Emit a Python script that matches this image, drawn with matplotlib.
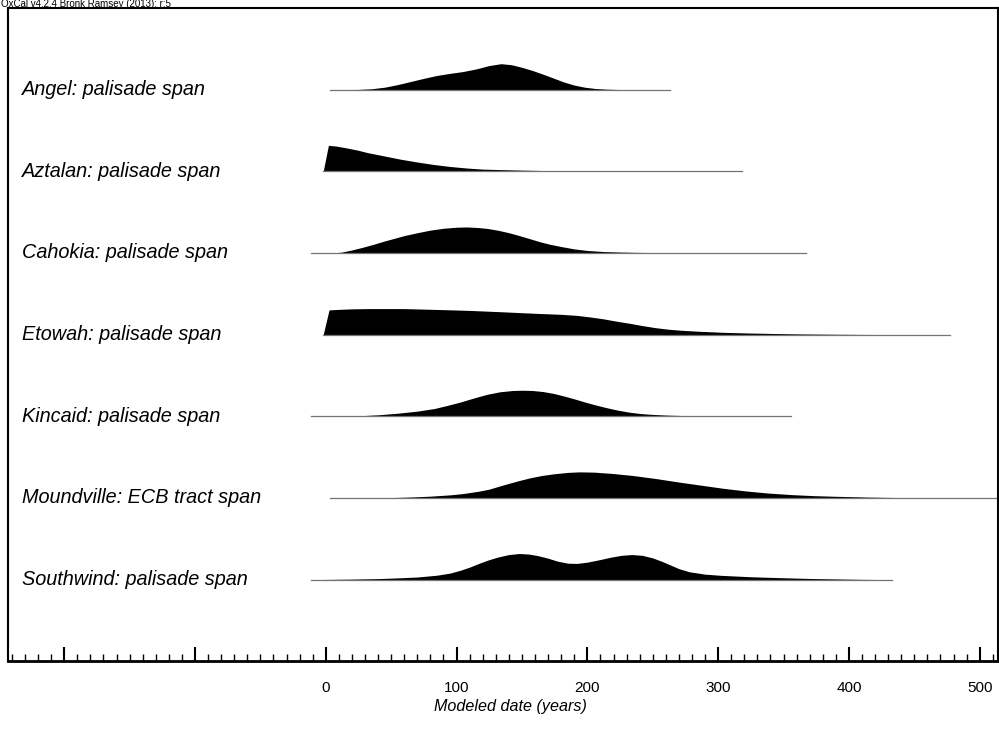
import matplotlib.pyplot as plt

# OxCal-style modeled span distributions (years, relative probability)
labels = ["Angel: palisade span", "Aztalan: palisade span", "Cahokia: palisade span",
          "Etowah: palisade span", "Kincaid: palisade span",
          "Moundville: ECB tract span", "Southwind: palisade span"]

angel_years = [3, 15, 25, 35, 45, 55, 65, 75, 85, 95, 105, 115, 125, 134, 142, 150, 158,
               166, 174, 182, 190, 198, 206, 215, 225, 240, 263]
angel_dens = [0, 0.005, 0.015, 0.04, 0.1, 0.2, 0.32, 0.44, 0.55, 0.63, 0.7, 0.8, 0.93, 1.0,
              0.96, 0.86, 0.74, 0.6, 0.45, 0.3, 0.18, 0.1, 0.05, 0.025, 0.01, 0.003, 0]

aztalan_years = [-2, 2, 8, 16, 24, 32, 44, 57, 70, 82, 95, 108, 120, 134, 150, 172, 195,
                 220, 260, 318]
aztalan_dens = [0, 1.0, 0.97, 0.9, 0.82, 0.72, 0.6, 0.47, 0.36, 0.27, 0.19, 0.13, 0.09,
                0.07, 0.05, 0.03, 0.018, 0.01, 0.003, 0]

cahokia_years = [-11, 0, 6, 12, 20, 28, 36, 44, 52, 60, 70, 80, 90, 100, 108, 116, 124,
                 132, 140, 148, 156, 164, 172, 180, 190, 200, 212, 225, 240, 260, 290, 367]
cahokia_dens = [0, 0, 0.01, 0.035, 0.12, 0.22, 0.33, 0.45, 0.56, 0.67, 0.78, 0.88, 0.95,
                0.99, 1.0, 0.98, 0.94, 0.87, 0.78, 0.67, 0.55, 0.43, 0.33, 0.25, 0.16, 0.1,
                0.06, 0.04, 0.025, 0.015, 0.005, 0]

etowah_years = [-2, 2.5, 10, 20, 32, 45, 60, 75, 90, 110, 134, 160, 180, 192, 202, 212,
                222, 232, 242, 252, 262, 272, 286, 305, 324, 345, 363, 390, 413, 445, 477]
etowah_dens = [0, 0.95, 0.97, 0.99, 1.0, 1.0, 1.0, 0.98, 0.96, 0.93, 0.88, 0.82, 0.78, 0.74,
               0.68, 0.61, 0.52, 0.44, 0.35, 0.27, 0.21, 0.17, 0.13, 0.09, 0.065, 0.045,
               0.03, 0.018, 0.01, 0.004, 0]

kincaid_years = [-11, 10, 25, 40, 55, 70, 83, 93, 103, 113, 123, 133, 143, 150, 158, 166,
                 174, 182, 190, 198, 206, 214, 223, 232, 240, 248, 260, 274, 300, 356]
kincaid_dens = [0, 0.005, 0.02, 0.06, 0.12, 0.2, 0.3, 0.42, 0.55, 0.7, 0.84, 0.94, 0.99,
                1.0, 0.99, 0.95, 0.88, 0.78, 0.67, 0.55, 0.44, 0.34, 0.24, 0.16, 0.11, 0.08,
                0.05, 0.03, 0.01, 0]

moundville_years = [3, 30, 50, 66, 80, 95, 105, 117, 125, 133, 140, 148, 156, 165, 175, 185,
                    194, 205, 219, 235, 253, 270, 287, 304, 321, 338, 356, 373, 390, 415,
                    440, 480, 520]
moundville_dens = [0, 0.005, 0.015, 0.04, 0.07, 0.12, 0.17, 0.26, 0.34, 0.46, 0.56, 0.67,
                   0.77, 0.86, 0.93, 0.98, 1.0, 0.99, 0.94, 0.86, 0.74, 0.61, 0.49, 0.37,
                   0.27, 0.19, 0.13, 0.09, 0.065, 0.035, 0.015, 0.005, 0]

southwind_years = [-11, 20, 40, 54, 70, 85, 95, 103, 110, 117, 124, 132, 140, 148, 155, 162,
                   170, 177, 185, 192, 200, 209, 218, 226, 234, 242, 250, 257, 264, 270,
                   278, 290, 302, 325, 346, 370, 390, 410, 433]
southwind_dens = [0, 0.02, 0.04, 0.065, 0.1, 0.17, 0.25, 0.36, 0.48, 0.62, 0.75, 0.87, 0.96,
                  1.0, 0.98, 0.92, 0.82, 0.71, 0.63, 0.62, 0.67, 0.76, 0.86, 0.93, 0.96,
                  0.93, 0.83, 0.7, 0.55, 0.42, 0.3, 0.21, 0.165, 0.11, 0.077, 0.045, 0.027,
                  0.01, 0]

series = [(angel_years, angel_dens), (aztalan_years, aztalan_dens),
          (cahokia_years, cahokia_dens), (etowah_years, etowah_dens),
          (kincaid_years, kincaid_dens), (moundville_years, moundville_dens),
          (southwind_years, southwind_dens)]

major_ticks = [-200, -100, 0, 100, 200, 300, 400, 500]
tick_labels = ["", "", "0", "100", "200", "300", "400", "500"]

plt.rcParams["font.family"] = ["Liberation Sans", "DejaVu Sans"]

fig = plt.figure(figsize=(9.99, 7.43), dpi=100)
ax = fig.add_axes([0.008, 0.110, 0.991, 0.879])

n = len(series)
scale = 0.32
for i, (yrs, dens) in enumerate(series):
    base = n - i
    top = [base + d * scale for d in dens]
    ax.fill_between(yrs, base, top, color="black", lw=0)
    ax.plot([yrs[0], yrs[-1]], [base, base], color="0.45", lw=0.9)
    # label sits slightly below the baseline, like OxCal
    ax.text(0.014, base - 0.065, labels[i], transform=ax.get_yaxis_transform(),
            ha="left", va="baseline", fontsize=14.3, style="italic")

ax.set_xlim(-243, 514)
ax.set_ylim(0, n + 1)
ax.set_yticks([])
ax.set_xticks(major_ticks)
ax.set_xticklabels(tick_labels)
ax.set_xticks(range(-240, 515, 10), minor=True)
ax.tick_params(axis="x", which="major", direction="in", length=10, width=1.5,
               pad=14, labelsize=11)
ax.tick_params(axis="x", which="minor", direction="in", length=5, width=1)
for s in ax.spines.values():
    s.set_linewidth(1.5)
ax.spines["bottom"].set_linewidth(2)

ax.set_xlabel("Modeled date (years)", fontsize=11.6, style="italic")
ax.xaxis.set_label_coords(0.508, -0.058)

fig.text(0.001, 1 - 7 / 743, "OxCal v4.2.4 Bronk Ramsey (2013); r:5", fontsize=7,
         ha="left", va="baseline")

fig.savefig("out.png", dpi=100)
